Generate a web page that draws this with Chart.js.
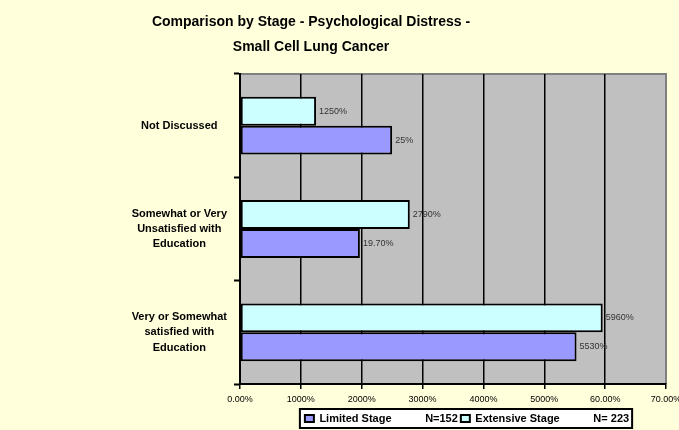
<!DOCTYPE html>
<html>
<head>
<meta charset="utf-8">
<script src="https://cdn.jsdelivr.net/npm/chart.js@4/dist/chart.umd.min.js"></script>
<style>
  html, body { margin: 0; padding: 0; background: #ffffdc; }
  #wrap { width: 679px; height: 430px; position: relative; }
</style>
</head>
<body>
<div id="wrap"><canvas id="chart1"></canvas></div>
<script>
const ctx = document.getElementById('chart1');

const categories = [
  'Not Discussed',
  ['Somewhat or Very', 'Unsatisfied with', 'Education'],
  ['Very or Somewhat', 'satisfied with', 'Education']
];
const extensiveValues = [12.5, 27.9, 59.6];
const limitedValues = [25, 19.7, 55.3];
const extensiveLabels = ['1250%', '2790%', '5960%'];
const limitedLabels = ['25%', '19.70%', '5530%'];
const tickLabels = ['0.00%', '1000%', '2000%', '3000%', '4000%', '5000%', '60.00%', '70.00%'];
const titleLines = ['Comparison by Stage - Psychological Distress -', 'Small Cell Lung Cancer'];

const fontFamily = '"Liberation Sans", Arial, sans-serif';

// gray plot area with the darker frame on top and right, plus legend frame
const plotBg = {
  id: 'plotBg',
  afterLayout(chart) {
    // legend sits a bit right of the plot centre and lower in the original
    chart.legend.left += 14;
    chart.legend.right += 14;
    chart.legend.top += 4;
    chart.legend.bottom += 4;
  },
  beforeDraw(chart) {
    const { ctx, chartArea: a } = chart;
    ctx.save();
    ctx.fillStyle = '#c0c0c0';
    ctx.fillRect(a.left, a.top, a.right - a.left, a.bottom - a.top);
    ctx.strokeStyle = '#808080';
    ctx.lineWidth = 2;
    ctx.beginPath();
    ctx.moveTo(a.left, a.top);
    ctx.lineTo(a.right, a.top);
    ctx.lineTo(a.right, a.bottom);
    ctx.stroke();

    const boxes = chart.legend.legendHitBoxes;
    if (boxes && boxes.length) {
      const l = Math.min(...boxes.map(b => b.left)) - 5;
      const r = Math.max(...boxes.map(b => b.left + b.width)) + 3;
      const t = boxes[0].top - 4;
      const h = boxes[0].height + 8;
      ctx.fillStyle = '#ffffff';
      ctx.fillRect(l, t, r - l, h);
      ctx.strokeStyle = '#000';
      ctx.lineWidth = 2;
      ctx.strokeRect(l, t, r - l, h);
    }
    ctx.restore();
  }
};

const titleDraw = {
  id: 'titleDraw',
  afterDraw(chart) {
    const c = chart.ctx;
    c.save();
    c.font = 'bold 14px ' + fontFamily;
    c.fillStyle = '#000';
    c.textAlign = 'center';
    c.textBaseline = 'middle';
    c.fillText(titleLines[0], 311, 22);
    c.fillText(titleLines[1], 311, 47);
    c.restore();
  }
};

const valueLabels = {
  id: 'valueLabels',
  afterDatasetsDraw(chart) {
    const c = chart.ctx;
    c.save();
    c.font = '9px ' + fontFamily;
    c.fillStyle = '#333';
    c.textAlign = 'left';
    c.textBaseline = 'middle';
    chart.data.datasets.forEach((ds, di) => {
      chart.getDatasetMeta(di).data.forEach((el, i) => {
        c.fillText(ds.valueText[i], el.x + 3, el.y);
      });
    });
    c.restore();
  }
};

const data = {
  labels: categories,
  datasets: [{
    label: 'Extensive Stage\u00a0\u00a0\u00a0\u00a0\u00a0\u00a0\u00a0\u00a0\u00a0\u00a0\u00a0N= 223',
    data: extensiveValues,
    valueText: extensiveLabels,
    backgroundColor: '#ccffff',
    borderColor: '#000',
    borderWidth: 2,
    borderSkipped: false
  }, {
    label: 'Limited Stage\u00a0\u00a0\u00a0\u00a0\u00a0\u00a0\u00a0\u00a0\u00a0\u00a0\u00a0N=152',
    data: limitedValues,
    valueText: limitedLabels,
    backgroundColor: '#9999ff',
    borderColor: '#000',
    borderWidth: 2,
    borderSkipped: false
  }]
};

const config = {
  type: 'bar',
  data: data,
  plugins: [plotBg, valueLabels, titleDraw],
  options: {
    indexAxis: 'y',
    responsive: true,
    maintainAspectRatio: false,
    animation: false,
    categoryPercentage: 0.56,
    barPercentage: 1,
    layout: { padding: { top: 74, right: 13, bottom: 0, left: 0 } },
    plugins: {
      title: { display: false },
      tooltip: { enabled: false },
      legend: {
        position: 'bottom',
        fullSize: false,
        reverse: true,
        labels: {
          color: '#000',
          font: { family: fontFamily, size: 11, weight: 'bold' },
          boxWidth: 9,
          boxHeight: 7,
          padding: 3,
          generateLabels(chart) {
            return chart.data.datasets.map((ds, i) => ({
              text: ds.label,
              fillStyle: ds.backgroundColor,
              strokeStyle: '#000',
              lineWidth: 2,
              datasetIndex: i
            }));
          }
        }
      }
    },
    scales: {
      x: {
        min: 0,
        max: 70,
        ticks: {
          stepSize: 10,
          color: '#000',
          padding: 5,
          maxRotation: 0,
          font: { family: fontFamily, size: 9 },
          callback: (v) => tickLabels[Math.round(v / 10)]
        },
        grid: {
          color: (c) => c.tick && c.tick.value === 70 ? '#808080' : '#000',
          lineWidth: 1.5,
          tickLength: 5,
          tickColor: '#000'
        },
        border: { color: '#000', width: 2 },
        afterFit(scale) {
          scale.height = 22;
          scale.paddingRight = 13;
        }
      },
      y: {
        ticks: {
          color: '#000',
          padding: 7,
          crossAlign: 'center',
          font: { family: fontFamily, size: 11, weight: 'bold', lineHeight: 1.4 }
        },
        grid: {
          drawOnChartArea: false,
          tickLength: 6,
          tickColor: '#000',
          tickWidth: 2
        },
        border: { color: '#000', width: 2 },
        afterFit(scale) { scale.width = 240; }
      }
    }
  }
};

const curChart = new Chart(ctx, config);
</script>
</body>
</html>
